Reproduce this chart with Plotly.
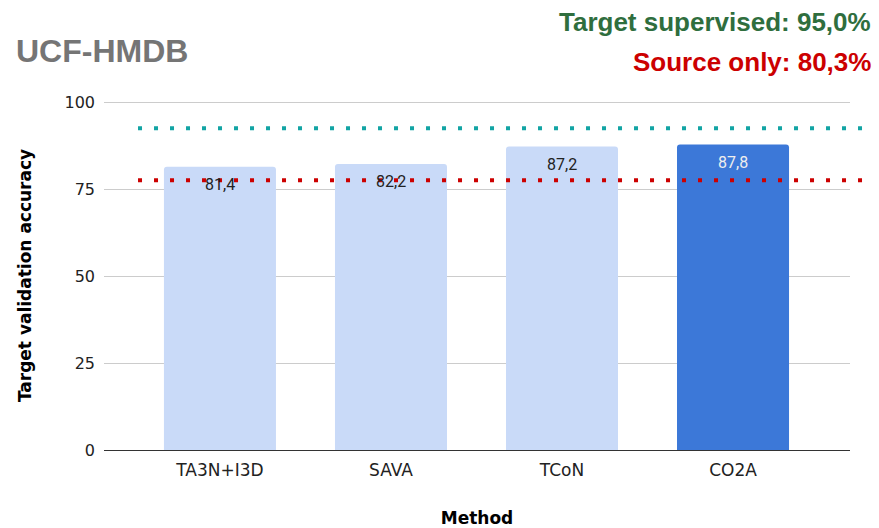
import plotly.graph_objects as go

# Accuracy of each domain-adaptation method on UCF -> HMDB
methods = ["TA3N+I3D", "SAVA", "TCoN", "CO2A"]
accuracy = [81.4, 82.2, 87.2, 87.8]
bar_colors = ["#c9daf8", "#c9daf8", "#c9daf8", "#3c78d8"]
label_colors = ["#222222", "#222222", "#222222", "#eeeeee"]

# Reference levels drawn as dotted lines
upper_ref = 92.5
lower_ref = 77.5

y_ticks = [0, 25, 50, 75, 100]


def fmt(v):
    return f"{v:.1f}".replace(".", ",")


fig = go.Figure()
fig.add_trace(go.Bar(
    x=methods,
    y=accuracy,
    marker=dict(color=bar_colors, line=dict(width=0), cornerradius=3),
    width=0.655,
    hoverinfo="skip",
))

# Value labels just inside the top of each bar
for m, v, c in zip(methods, accuracy, label_colors):
    fig.add_annotation(
        x=m, y=v, text=fmt(v), showarrow=False,
        yanchor="middle", yshift=-18,
        font=dict(family="Roboto", size=16, color=c),
    )

# Dotted reference lines
for level, color in [(upper_ref, "#12a4a4"), (lower_ref, "#cc0000")]:
    fig.add_shape(
        type="line", xref="paper", yref="y",
        x0=0.0456, x1=1.017, y0=level, y1=level,
        line=dict(color=color, width=4, dash="4px,12px"),
        layer="above",
    )

# Headline texts
fig.add_annotation(
    xref="paper", yref="paper", x=-0.121, y=1.143,
    xanchor="left", yanchor="middle", showarrow=False,
    text="<b>UCF-HMDB</b>",
    font=dict(family="Liberation Sans", size=32, color="#757575"),
)
fig.add_annotation(
    xref="paper", yref="paper", x=1.031, y=1.226,
    xanchor="right", yanchor="middle", showarrow=False,
    text="<b>Target supervised: 95,0%</b>",
    font=dict(family="Liberation Sans", size=26, color="#2f6e3e"),
)
fig.add_annotation(
    xref="paper", yref="paper", x=1.031, y=1.111,
    xanchor="right", yanchor="middle", showarrow=False,
    text="<b>Source only: 80,3%</b>",
    font=dict(family="Liberation Sans", size=26, color="#cc0000"),
)

fig.update_layout(
    width=879, height=528,
    margin=dict(l=104, r=29, t=101, b=78, autoexpand=False),
    paper_bgcolor="white", plot_bgcolor="white",
    showlegend=False,
    bargap=0.3,
    xaxis=dict(
        type="category",
        automargin=False,
        range=[-0.678, 3.684],
        showgrid=False, showline=False, ticks="",
        ticklabelstandoff=8,
        tickfont=dict(family="DejaVu Sans", size=17, color="#222222"),
        title=dict(text="<b>Method</b>", standoff=36,
                   font=dict(family="DejaVu Sans", size=17, color="#000000")),
    ),
    yaxis=dict(
        automargin=False,
        range=[0, 100.3],
        tickvals=y_ticks,
        ticktext=[str(t) for t in y_ticks],
        showgrid=True, gridcolor="#cccccc", gridwidth=1,
        zeroline=True, zerolinecolor="#333333", zerolinewidth=1,
        showline=False, ticks="",
        ticklabelstandoff=8,
        tickfont=dict(family="DejaVu Sans", size=16, color="#222222"),
        title=dict(text="<b>Target validation accuracy</b>", standoff=28,
                   font=dict(family="DejaVu Sans", size=17, color="#000000")),
    ),
)

fig.write_html("out.html")
